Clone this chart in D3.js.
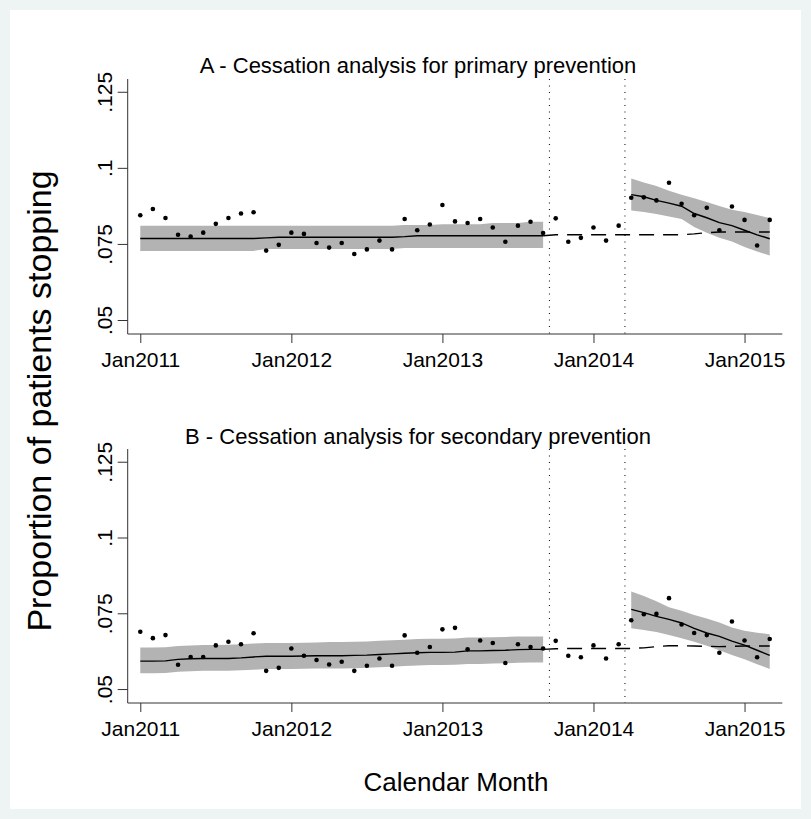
<!DOCTYPE html>
<html>
<head>
<meta charset="utf-8">
<script src="https://cdn.jsdelivr.net/npm/d3@7"></script>
<style>
  html, body { margin: 0; padding: 0; background: #eef3f3; }
  svg { display: block; }
  text { font-family: "Liberation Sans", Arial, Helvetica, sans-serif; fill: #000; }
</style>
</head>
<body>
<svg id="chart" width="811" height="819"></svg>
<script>
// ---------- DATA ----------
const months = d3.range(0, 51); // 0 = Jan2011 ... 50 = Mar2015
const tickMonths = [0, 12, 24, 36, 48];
const tickLabels = ["Jan2011", "Jan2012", "Jan2013", "Jan2014", "Jan2015"];
const yTicks = [0.05, 0.075, 0.1, 0.125];
const yTickLabels = [".05", ".075", ".1", ".125"];
const interventionLines = [32.5, 38.5];

const titleA = "A - Cessation analysis for primary prevention";
const titleB = "B - Cessation analysis for secondary prevention";

// observed monthly proportions
const obsA = [0.0844, 0.0865, 0.0835, 0.0780, 0.0774, 0.0787, 0.0816, 0.0835, 0.0850, 0.0854,
              0.0728, 0.0747, 0.0787, 0.0783, 0.0753, 0.0738, 0.0753, 0.0717, 0.0732, 0.0761,
              0.0732, 0.0832, 0.0795, 0.0814, 0.0878, 0.0824, 0.0819, 0.0832, 0.0804, 0.0757,
              0.0810, 0.0823, 0.0786, 0.0834, 0.0757, 0.0770, 0.0804, 0.0761, 0.0810, 0.0902,
              0.0903, 0.0893, 0.0951, 0.0882, 0.0844, 0.0869, 0.0795, 0.0873, 0.0829, 0.0745,
              0.0829];
const obsB = [0.0689, 0.0668, 0.0678, 0.0580, 0.0606, 0.0606, 0.0644, 0.0656, 0.0648, 0.0684,
              0.0560, 0.0570, 0.0634, 0.0610, 0.0596, 0.0581, 0.0590, 0.0560, 0.0577, 0.0601,
              0.0577, 0.0677, 0.0620, 0.0639, 0.0697, 0.0702, 0.0631, 0.0660, 0.0652, 0.0586,
              0.0648, 0.0639, 0.0634, 0.0659, 0.0610, 0.0605, 0.0644, 0.0601, 0.0648, 0.0727,
              0.0747, 0.0748, 0.0800, 0.0713, 0.0685, 0.0678, 0.0620, 0.0723, 0.0660, 0.0605,
              0.0665];

// pre-period fit (months 0..32)
const preMonths = d3.range(0, 33);
const preFitA = [0.0768,0.0768,0.0768,0.0768,0.0768,0.0768,0.0768,0.0768,0.0768,0.0768,
                 0.0770,0.0772,0.0772,0.0772,0.0772,0.0772,0.0772,0.0772,0.0772,0.0772,
                 0.0772,0.0774,0.0777,0.0777,0.0777,0.0777,0.0777,0.0777,0.0777,0.0777,
                 0.0777,0.0777,0.0777];
const preUpA = [0.0810,0.0810,0.0810,0.0810,0.0810,0.0810,0.0810,0.0810,0.0810,0.0810,
                0.0810,0.0810,0.0810,0.0810,0.0810,0.0810,0.0810,0.0810,0.0810,0.0810,
                0.0810,0.0812,0.0812,0.0812,0.0815,0.0815,0.0815,0.0815,0.0819,0.0819,
                0.0819,0.0823,0.0823];
const preLoA = [0.0727,0.0727,0.0727,0.0727,0.0727,0.0727,0.0727,0.0727,0.0727,0.0727,
                0.0733,0.0733,0.0733,0.0733,0.0733,0.0733,0.0733,0.0733,0.0733,0.0733,
                0.0733,0.0737,0.0737,0.0737,0.0737,0.0737,0.0737,0.0737,0.0737,0.0737,
                0.0737,0.0737,0.0737];
const preFitB = [0.0592,0.0592,0.0593,0.0598,0.0600,0.0601,0.0601,0.0601,0.0603,0.0606,
                 0.0608,0.0608,0.0608,0.0609,0.0610,0.0610,0.0610,0.0611,0.0612,0.0614,
                 0.0616,0.0618,0.0620,0.0621,0.0621,0.0622,0.0626,0.0626,0.0627,0.0628,
                 0.0630,0.0631,0.0631];
const preUpB = [0.0637,0.0637,0.0638,0.0642,0.0644,0.0645,0.0645,0.0646,0.0648,0.0650,
                0.0652,0.0652,0.0652,0.0653,0.0654,0.0655,0.0655,0.0656,0.0657,0.0659,
                0.0661,0.0663,0.0665,0.0666,0.0666,0.0667,0.0670,0.0670,0.0671,0.0672,
                0.0673,0.0673,0.0673];
const preLoB = [0.0552,0.0552,0.0553,0.0557,0.0559,0.0560,0.0560,0.0560,0.0562,0.0564,
                0.0566,0.0566,0.0566,0.0567,0.0568,0.0568,0.0568,0.0569,0.0570,0.0572,
                0.0574,0.0576,0.0578,0.0579,0.0579,0.0580,0.0583,0.0583,0.0584,0.0585,
                0.0587,0.0588,0.0588];

// post-period fit (months 39..50)
const postMonths = d3.range(39, 51);
const postFitA = [0.0912,0.0905,0.0893,0.0884,0.0874,0.0850,0.0836,0.0820,0.0810,0.0795,0.0780,0.0767];
const postUpA  = [0.0965,0.0952,0.0940,0.0925,0.0912,0.0900,0.0888,0.0875,0.0862,0.0855,0.0845,0.0835];
const postLoA  = [0.0860,0.0855,0.0848,0.0840,0.0832,0.0806,0.0787,0.0770,0.0758,0.0740,0.0725,0.0712];
const postFitB = [0.0763,0.0752,0.0740,0.0730,0.0718,0.0700,0.0685,0.0674,0.0658,0.0645,0.0628,0.0611];
const postUpB  = [0.0822,0.0807,0.0790,0.0770,0.0758,0.0744,0.0733,0.0720,0.0703,0.0692,0.0686,0.0681];
const postLoB  = [0.0701,0.0695,0.0688,0.0678,0.0668,0.0656,0.0643,0.0628,0.0612,0.0598,0.0582,0.0566];

// counterfactual (dashed) months 32..50
const cfMonths = d3.range(32, 51);
const cfA = [0.0777,0.0780,0.0780,0.0780,0.0780,0.0780,0.0780,0.0780,0.0780,0.0780,
             0.0780,0.0780,0.0783,0.0787,0.0789,0.0789,0.0789,0.0789,0.0789];
const cfB = [0.0631,0.0633,0.0634,0.0634,0.0634,0.0634,0.0634,0.0634,0.0636,0.0640,
             0.0643,0.0643,0.0642,0.0641,0.0640,0.0641,0.0642,0.0642,0.0642];

// ---------- DRAW ----------
const svg = d3.select("#chart");
svg.append("rect").attr("x", 10).attr("y", 10).attr("width", 791).attr("height", 799).attr("fill", "#fff");

const x = d3.scaleLinear().domain([-1, 51]).range([127.7, 782.3]);

const panels = [
  { title: titleA, obs: obsA, preFit: preFitA, preUp: preUpA, preLo: preLoA,
    postFit: postFitA, postUp: postUpA, postLo: postLoA, cf: cfA, top: 79, bottom: 334, titleY: 73 },
  { title: titleB, obs: obsB, preFit: preFitB, preUp: preUpB, preLo: preLoB,
    postFit: postFitB, postUp: postUpB, postLo: postLoB, cf: cfB, top: 449, bottom: 703, titleY: 444 }
];

panels.forEach(p => {
  const y = d3.scaleLinear().domain([0.0454, 0.1292]).range([p.bottom, p.top]);
  const g = svg.append("g");

  const area = (ms, lo, up) => d3.area().x((d, i) => x(ms[i])).y0((d, i) => y(lo[i])).y1((d, i) => y(up[i]))(ms);
  const line = (ms, v) => d3.line().x((d, i) => x(ms[i])).y((d, i) => y(v[i]))(ms);

  g.append("path").attr("d", area(preMonths, p.preLo, p.preUp)).attr("fill", "#b3b3b3");
  g.append("path").attr("d", area(postMonths, p.postLo, p.postUp)).attr("fill", "#b3b3b3");

  // vertical dotted lines
  interventionLines.forEach(m => {
    g.append("line").attr("x1", x(m)).attr("x2", x(m)).attr("y1", p.top).attr("y2", p.bottom)
      .attr("stroke", "#000").attr("stroke-width", 1).attr("stroke-dasharray", "1,5.5");
  });

  g.append("path").attr("d", line(cfMonths, p.cf)).attr("fill", "none")
    .attr("stroke", "#000").attr("stroke-width", 1.4).attr("stroke-dasharray", "15,9");
  g.append("path").attr("d", line(preMonths, p.preFit)).attr("fill", "none")
    .attr("stroke", "#000").attr("stroke-width", 1.4);
  g.append("path").attr("d", line(postMonths, p.postFit)).attr("fill", "none")
    .attr("stroke", "#000").attr("stroke-width", 1.4);

  g.selectAll("circle.pt").data(p.obs).join("circle").attr("class", "pt")
    .attr("cx", (d, i) => x(months[i])).attr("cy", d => y(d)).attr("r", 2.3).attr("fill", "#000");

  // y axis
  const yAxis = d3.axisLeft(y).tickValues(yTicks).tickFormat((d, i) => yTickLabels[i]).tickSize(10).tickSizeOuter(0);
  const ya = g.append("g").attr("transform", `translate(${x(-1)},0)`).call(yAxis);
  ya.select(".domain").attr("stroke", "#333").attr("d", `M0,${p.top}V${p.bottom}`);
  ya.selectAll(".tick line").attr("stroke", "#333");
  ya.selectAll(".tick text").attr("font-size", 21).attr("text-anchor", "middle")
    .attr("x", 0).attr("dy", 0)
    .attr("transform", "translate(-16,0) rotate(-90)")
    .attr("y", 0);

  // x axis
  const xAxis = d3.axisBottom(x).tickValues(tickMonths).tickFormat((d, i) => tickLabels[i]).tickSize(9).tickSizeOuter(0);
  const xa = g.append("g").attr("transform", `translate(0,${p.bottom})`).call(xAxis);
  xa.select(".domain").attr("stroke", "#333").attr("d", `M${x(-1)},0H${x(51)}`);
  xa.selectAll(".tick line").attr("stroke", "#333");
  xa.selectAll(".tick text").attr("font-size", 21).attr("y", 33).attr("dy", 0);

  g.append("text").attr("x", 418).attr("y", p.titleY).attr("text-anchor", "middle")
    .attr("font-size", 22).text(p.title);
});

svg.append("text").attr("transform", "translate(51,401) rotate(-90)").attr("text-anchor", "middle")
  .attr("font-size", 34).text("Proportion of patients stopping");
svg.append("text").attr("x", 456).attr("y", 791).attr("text-anchor", "middle")
  .attr("font-size", 26).text("Calendar Month");
</script>
</body>
</html>
